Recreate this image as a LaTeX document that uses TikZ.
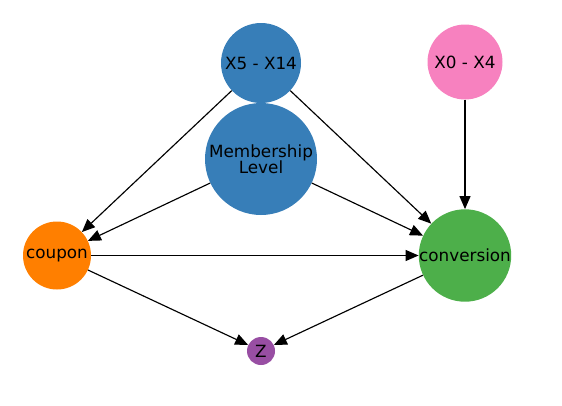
\documentclass[tikz,border=0pt]{standalone}
\usepackage{fontspec}
\setmainfont{DejaVu Sans}
\usetikzlibrary{arrows.meta}
\definecolor{cblue}{HTML}{377EB8}
\definecolor{cpink}{HTML}{F781BF}
\definecolor{corange}{HTML}{FF7F00}
\definecolor{cgreen}{HTML}{4DAF4A}
\definecolor{cpurple}{HTML}{984EA3}
\tikzset{
  vnode/.style={circle, inner sep=0pt, align=center, text=black,
    font=\fontsize{16.8}{16.5}\selectfont},
  edge/.style={draw=black, line width=1.15pt, -{Triangle[length=13pt,width=11pt]}}
}
\begin{document}
\begin{tikzpicture}[x=1pt,y=-1pt]
\useasboundingbox (0,0) rectangle (562,405);
\node[vnode, fill=cblue, minimum size=80pt] (x5) at (261,63) {X5 - X14};
\node[vnode, fill=cpink, minimum size=75pt] (x0) at (465,62) {X0 - X4};
\node[vnode, fill=cblue, minimum size=112pt] (mem) at (261,159) {Membership\\Level};
\node[vnode, fill=corange, minimum size=68pt] (coupon) at (57,255.5) {coupon};
\node[vnode, fill=cgreen, minimum size=88pt] (conv) at (465,255.5) {conversion};
\node[vnode, fill=cpurple, minimum size=28pt] (z) at (261,351) {Z};
\draw[edge] (x5) -- (coupon);
\draw[edge] (x5) -- (conv);
\draw[edge] (mem) -- (coupon);
\draw[edge] (mem) -- (conv);
\draw[edge] (x0) -- (conv);
\draw[edge] (coupon) -- (conv);
\draw[edge] (coupon) -- (z);
\draw[edge] (conv) -- (z);
\end{tikzpicture}
\end{document}
